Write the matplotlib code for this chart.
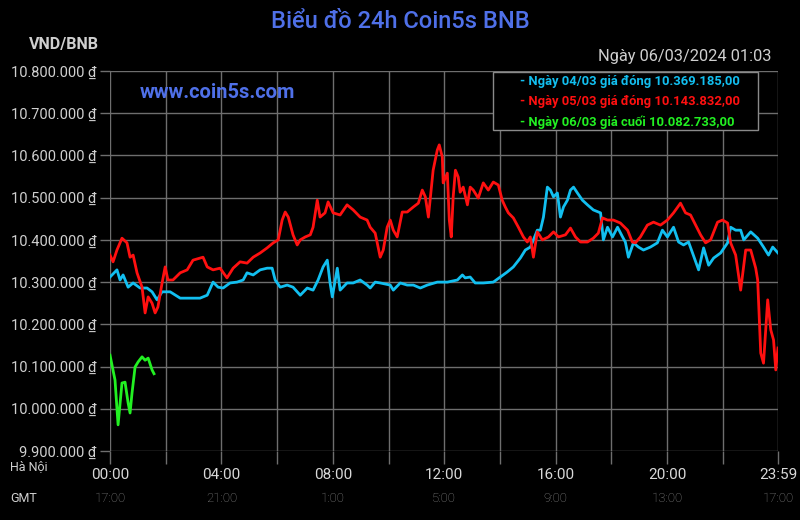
import matplotlib
matplotlib.use("Agg")
import matplotlib.pyplot as plt
from matplotlib.ticker import FixedLocator
from matplotlib.patches import Rectangle

# ---- data (hours since 00:00, price in thousand VND) ----
cyan_h = [0.00, 0.25, 0.36, 0.47, 0.65, 0.83, 1.08, 1.33, 1.51, 1.69, 1.87, 2.16, 2.52, 2.87, 3.23, 3.49,
          3.70, 3.88, 4.06, 4.31, 4.56, 4.78, 4.92, 5.14, 5.39, 5.64, 5.82, 5.93, 6.11, 6.36, 6.57, 6.83,
          7.08, 7.29, 7.47, 7.65, 7.80, 7.90, 7.98, 8.16, 8.26, 8.51, 8.73, 8.98, 9.23, 9.34, 9.52, 9.70,
          10.06, 10.17, 10.42, 10.67, 10.89, 11.14, 11.39, 11.75, 12.11, 12.47, 12.65, 12.75, 12.93, 13.11,
          13.40, 13.76, 14.01, 14.26, 14.48, 14.73, 14.91, 15.09, 15.20, 15.34, 15.45, 15.56, 15.70, 15.81,
          15.92, 16.06, 16.17, 16.28, 16.42, 16.53, 16.64, 16.78, 16.96, 17.14, 17.35, 17.61, 17.71, 17.86,
          18.04, 18.22, 18.40, 18.50, 18.61, 18.79, 18.97, 19.15, 19.40, 19.65, 19.83, 20.01, 20.23, 20.41,
          20.59, 20.77, 21.13, 21.31, 21.49, 21.67, 21.92, 22.17, 22.28, 22.46, 22.64, 22.75, 23.00, 23.25,
          23.46, 23.64, 23.79, 23.98]
cyan_v = [10312, 10329, 10305, 10317, 10288, 10298, 10286, 10286, 10277, 10258, 10277, 10277, 10262, 10262, 10262, 10269,
          10300, 10288, 10286, 10298, 10300, 10305, 10322, 10317, 10329, 10333, 10333, 10305, 10288, 10293, 10288, 10269,
          10286, 10281, 10305, 10336, 10352, 10298, 10265, 10333, 10281, 10298, 10298, 10305, 10293, 10286, 10300, 10298,
          10293, 10281, 10298, 10293, 10293, 10286, 10293, 10300, 10300, 10305, 10317, 10310, 10312, 10298,
          10298, 10300, 10312, 10324, 10336, 10357, 10376, 10383, 10400, 10423, 10423, 10454, 10525, 10518,
          10502, 10511, 10454, 10478, 10494, 10518, 10525, 10511, 10494, 10483, 10471, 10464, 10400, 10430,
          10407, 10430, 10407, 10395, 10359, 10393, 10383, 10376, 10383, 10393, 10423, 10407, 10430, 10395,
          10388, 10395, 10329, 10381, 10340, 10357, 10369, 10393, 10430, 10423, 10423, 10400, 10419, 10404,
          10383, 10364, 10383, 10369]

red_h = [0.00, 0.11, 0.25, 0.43, 0.61, 0.72, 0.83, 0.97, 1.15, 1.26, 1.37, 1.51, 1.62, 1.72, 1.87, 1.98,
         2.08, 2.26, 2.52, 2.77, 2.98, 3.23, 3.34, 3.49, 3.70, 3.95, 4.20, 4.42, 4.67, 4.92, 5.14, 5.39,
         5.64, 5.86, 6.04, 6.18, 6.29, 6.40, 6.57, 6.72, 6.83, 7.01, 7.19, 7.29, 7.44, 7.54, 7.72, 7.83,
         8.01, 8.26, 8.51, 8.73, 8.98, 9.23, 9.34, 9.52, 9.70, 9.81, 9.95, 10.06, 10.17, 10.31, 10.49, 10.67,
         10.89, 11.07, 11.21, 11.32, 11.43, 11.60, 11.75, 11.82, 11.93, 11.96, 12.11, 12.18, 12.25, 12.32,
         12.40, 12.50, 12.57, 12.68, 12.83, 12.93, 13.04, 13.22, 13.40, 13.58, 13.76, 13.94, 14.08, 14.19,
         14.30, 14.48, 14.66, 14.84, 14.98, 15.09, 15.20, 15.34, 15.52, 15.74, 15.92, 16.10, 16.35, 16.53,
         16.71, 16.89, 17.14, 17.35, 17.53, 17.68, 17.86, 18.07, 18.32, 18.58, 18.75, 18.86, 19.04, 19.29,
         19.51, 19.76, 20.01, 20.23, 20.48, 20.66, 20.84, 21.20, 21.38, 21.56, 21.81, 21.99, 22.17, 22.28,
         22.46, 22.64, 22.82, 23.00, 23.18, 23.25, 23.36, 23.46, 23.61, 23.72, 23.82, 23.90, 23.98]
red_v = [10364, 10348, 10376, 10404, 10393, 10359, 10364, 10322, 10288, 10227, 10265, 10250, 10227, 10241, 10298, 10336,
         10305, 10305, 10322, 10329, 10352, 10357, 10359, 10336, 10329, 10333, 10310, 10333, 10348, 10345, 10359, 10369,
         10381, 10393, 10400, 10447, 10466, 10454, 10412, 10388, 10400, 10407, 10412, 10430, 10494, 10454, 10464, 10490,
         10464, 10459, 10483, 10471, 10454, 10447, 10430, 10416, 10359, 10376, 10430, 10447, 10423, 10407, 10466, 10466,
         10478, 10487, 10518, 10502, 10454, 10565, 10613, 10625, 10596, 10535, 10558, 10447, 10407, 10502,
         10565, 10549, 10513, 10525, 10483, 10525, 10518, 10499, 10535, 10518, 10537, 10530, 10494, 10478,
         10464, 10452, 10430, 10407, 10395, 10407, 10359, 10419, 10400, 10407, 10419, 10407, 10412, 10428,
         10407, 10395, 10395, 10404, 10416, 10452, 10447, 10447, 10440, 10423, 10395, 10393, 10407, 10435,
         10442, 10435, 10447, 10464, 10487, 10464, 10459, 10412, 10393, 10400, 10442, 10447, 10440, 10393,
         10364, 10281, 10376, 10376, 10333, 10305, 10132, 10108, 10258, 10187, 10163, 10092, 10144]

green_h = [0.00, 0.18, 0.29, 0.43, 0.54, 0.65, 0.72, 0.79, 0.90, 1.01, 1.15, 1.26, 1.37, 1.51, 1.58]
green_v = [10127, 10068, 9962, 10061, 10063, 10014, 9990, 10037, 10099, 10111, 10123, 10115, 10120, 10092, 10083]

y_ticks = [9900000, 10000000, 10100000, 10200000, 10300000, 10400000, 10500000, 10600000, 10700000, 10800000]
y_labels = ["9.900.000 ₫", "10.000.000 ₫", "10.100.000 ₫", "10.200.000 ₫", "10.300.000 ₫",
            "10.400.000 ₫", "10.500.000 ₫", "10.600.000 ₫", "10.700.000 ₫", "10.800.000 ₫"]
x_ticks = [0, 4, 8, 12, 16, 20, 23.98]
x_labels = ["00:00", "04:00", "08:00", "12:00", "16:00", "20:00", "23:59"]
gmt_labels = ["17:00", "21:00", "1:00", "5:00", "9:00", "13:00", "17:00"]
x_minor = [2, 6, 10, 14, 18, 22]

legend_lines = ["- Ngày 04/03 giá đóng 10.369.185,00",
                "- Ngày 05/03 giá đóng 10.143.832,00",
                "- Ngày 06/03 giá cuối 10.082.733,00"]
title = "Biểu đồ 24h Coin5s BNB"
date_text = "Ngày 06/03/2024 01:03"

CYAN = "#12bff0"
RED = "#ff1010"
GREEN = "#22f022"
GRID = "#6e6e6e"
BLUE = "#4f70e8"

plt.rcParams['font.family'] = ['Roboto', 'DejaVu Sans']

fig = plt.figure(figsize=(8, 5.2), dpi=100, facecolor="black")
ax = fig.add_axes([110/800, 1-451/520, 668/800, 380/520], facecolor="black")

ax.plot(cyan_h, [v*1000 for v in cyan_v], color=CYAN, lw=2.0)
ax.plot(red_h, [v*1000 for v in red_v], color=RED, lw=2.0)
ax.plot(green_h, [v*1000 for v in green_v], color=GREEN, lw=2.0)

ax.set_xlim(0, 23.98)
ax.set_ylim(9900000, 10800000)
ax.set_yticks(y_ticks)
ax.set_yticklabels(y_labels, fontsize=10.5)
ax.set_xticks(x_ticks)
ax.set_xticklabels(x_labels, fontsize=11)
ax.xaxis.set_minor_locator(FixedLocator(x_minor))
ax.grid(True, which="both", color=GRID, lw=1)
ax.tick_params(axis="y", colors=GRID, length=7, width=1, pad=3, labelcolor="#d0d0d0")
ax.tick_params(axis="x", which="both", colors=GRID, length=9, width=1, pad=3, labelcolor="#d8d8d8")
for s in ax.spines.values():
    s.set_visible(False)
ax.set_axisbelow(True)

# second row of time labels (GMT)
for xt, lab in zip(x_ticks, gmt_labels):
    ax.annotate(lab, xy=(xt, 0), xycoords=("data", "axes fraction"), xytext=(0, -47),
                textcoords="offset pixels", ha="center", va="center", color="#8a8a8a",
                fontsize=9.5, fontweight="light")

fig.text(10/800, 1-467/520, "Hà Nội", color="#d0d0d0", fontsize=9, ha="left", va="center")
fig.text(10/800, 1-498/520, "GMT", color="#d0d0d0", fontsize=9, ha="left", va="center")

fig.text(0.5, 1-22/520, title, color=BLUE, fontsize=17, fontweight="medium", ha="center", va="center")
fig.text(64/800, 1-44/520, "VND/BNB", color="#cfcfcf", fontsize=11.5, fontweight="bold",
         ha="center", va="center")
fig.text(772/800, 1-56/520, date_text, color="#cfcfcf", fontsize=11.8, ha="right", va="center")
fig.text(140/800, 1-93/520, "www.coin5s.com", color=BLUE, fontsize=14.5, fontweight="bold",
         ha="left", va="center")

# legend box
fig.patches.append(Rectangle((493/800, 1-130/520), 265/800, 58/520, transform=fig.transFigure,
                             facecolor="black", edgecolor="#8a8a8a", lw=1, zorder=5))
for i, (txt, c) in enumerate(zip(legend_lines, [CYAN, RED, GREEN])):
    fig.text(520/800, 1-(82 + i*20)/520, txt, color=c, fontsize=9.4, fontweight="bold",
             ha="left", va="center", zorder=6)

fig.savefig("out.png", dpi=100, facecolor="black")
